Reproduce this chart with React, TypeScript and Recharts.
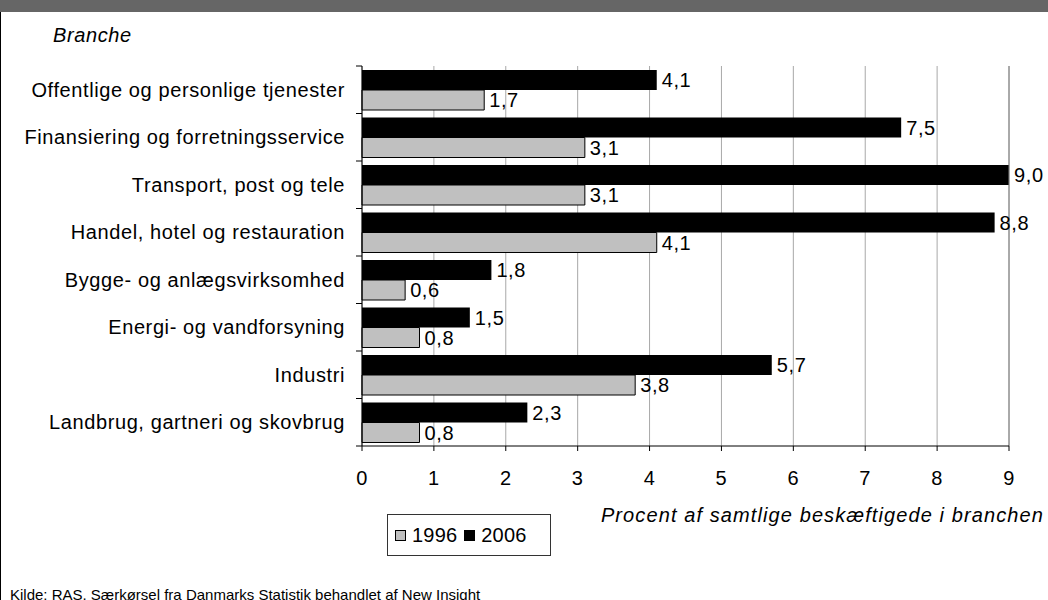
import React from 'react';
import { BarChart, Bar, XAxis, YAxis, CartesianGrid, LabelList, ReferenceLine } from 'recharts';

const categories = [
  'Offentlige og personlige tjenester',
  'Finansiering og forretningsservice',
  'Transport, post og tele',
  'Handel, hotel og restauration',
  'Bygge- og anlægsvirksomhed',
  'Energi- og vandforsyning',
  'Industri',
  'Landbrug, gartneri og skovbrug',
];
const values1996 = [1.7, 3.1, 3.1, 4.1, 0.6, 0.8, 3.8, 0.8];
const values2006 = [4.1, 7.5, 9.0, 8.8, 1.8, 1.5, 5.7, 2.3];
const xTicks = [0, 1, 2, 3, 4, 5, 6, 7, 8, 9];
const seriesNames = ['1996', '2006'];

const data = categories.map((name, i) => ({
  name,
  v1996: values1996[i],
  v2006: values2006[i],
}));

const W = 1048;
const H = 600;
const PLOT_LEFT = 362;
const PLOT_RIGHT = 1009;
const PLOT_TOP = 66;
const PLOT_BOTTOM = 446;
const BAND = (PLOT_BOTTOM - PLOT_TOP) / categories.length;
const FONT = '"Liberation Sans", Arial, sans-serif';
const FS = 20;

const fmt = (v: any) => Number(v).toFixed(1).replace('.', ',');

const CategoryTick = (props: any) => {
  const { y, payload, index } = props;
  return (
    <g>
      <line x1={PLOT_LEFT - 6} x2={PLOT_LEFT} y1={y - BAND / 2} y2={y - BAND / 2} stroke="#000" />
      {index === categories.length - 1 && (
        <line x1={PLOT_LEFT - 6} x2={PLOT_LEFT} y1={y + BAND / 2} y2={y + BAND / 2} stroke="#000" />
      )}
      <text x={PLOT_LEFT - 17} y={y} dy="0.35em" textAnchor="end" fontSize={FS} fill="#000">
        {payload.value}
      </text>
    </g>
  );
};

export default function App() {
  return (
    <div
      style={{
        position: 'absolute',
        left: 0,
        top: 0,
        width: W,
        height: H,
        background: '#fff',
        fontFamily: FONT,
        letterSpacing: '0.6px',
        overflow: 'hidden',
      }}
    >
      <div style={{ position: 'absolute', left: 0, top: 0, width: W, height: 12, background: '#666' }} />
      <div style={{ position: 'absolute', left: 0, top: 12, width: 1, height: H - 12, background: '#000' }} />

      <div
        style={{
          position: 'absolute',
          left: 53,
          top: 25,
          fontSize: FS,
          lineHeight: '20px',
          fontStyle: 'italic',
          letterSpacing: '0.6px',
        }}
      >
        Branche
      </div>

      <div style={{ position: 'absolute', left: 0, top: 0 }}>
        <BarChart
          width={W}
          height={H}
          data={data}
          layout="vertical"
          margin={{ top: PLOT_TOP, right: W - PLOT_RIGHT, bottom: H - PLOT_BOTTOM - 40, left: 12 }}
          barCategoryGap={4}
          barGap={0}
        >
          <CartesianGrid horizontal={false} stroke="#a8a8a8" />
          <XAxis
            type="number"
            domain={[0, 9]}
            ticks={xTicks}
            height={40}
            axisLine={{ stroke: '#000' }}
            tickLine={{ stroke: '#000' }}
            tickSize={5}
            tickMargin={20}
            tick={{ fontSize: FS, fill: '#000' }}
            interval={0}
          />
          <YAxis
            type="category"
            dataKey="name"
            width={PLOT_LEFT - 12}
            axisLine={{ stroke: '#000' }}
            tickLine={false}
            tick={<CategoryTick />}
            interval={0}
          />
          <ReferenceLine x={9} stroke="#808080" />
          <Bar dataKey="v2006" name={seriesNames[1]} fill="#000" isAnimationActive={false}>
            <LabelList dataKey="v2006" position="right" offset={5} formatter={fmt} fontSize={FS} fill="#000" />
          </Bar>
          <Bar dataKey="v1996" name={seriesNames[0]} fill="#c0c0c0" stroke="#000" strokeWidth={1} isAnimationActive={false}>
            <LabelList dataKey="v1996" position="right" offset={5} formatter={fmt} fontSize={FS} fill="#000" />
          </Bar>
        </BarChart>
      </div>

      <div
        style={{
          position: 'absolute',
          right: 4,
          top: 505,
          fontSize: FS,
          lineHeight: '20px',
          fontStyle: 'italic',
          letterSpacing: '1.1px',
          whiteSpace: 'nowrap',
        }}
      >
        Procent af samtlige beskæftigede i branchen
      </div>

      <div
        style={{
          position: 'absolute',
          left: 387,
          top: 514,
          width: 164,
          height: 42,
          boxSizing: 'border-box',
          border: '1px solid #333',
          display: 'flex',
          alignItems: 'center',
          paddingLeft: 7,
          fontSize: FS,
          letterSpacing: '0.2px',
        }}
      >
        {seriesNames.map((s, i) => (
          <span key={s} style={{ display: 'flex', alignItems: 'center', marginRight: 7 }}>
            <span
              style={{
                display: 'inline-block',
                width: 11,
                height: 11,
                boxSizing: 'border-box',
                border: '1px solid #000',
                background: i === 0 ? '#c0c0c0' : '#000',
                marginRight: 6,
              }}
            />
            {s}
          </span>
        ))}
      </div>

      <div
        style={{
          position: 'absolute',
          left: 10,
          top: 587,
          fontSize: 15,
          lineHeight: '15px',
          letterSpacing: '0px',
          whiteSpace: 'nowrap',
        }}
      >
        Kilde: RAS. Særkørsel fra Danmarks Statistik behandlet af New Insight
      </div>
    </div>
  );
}
